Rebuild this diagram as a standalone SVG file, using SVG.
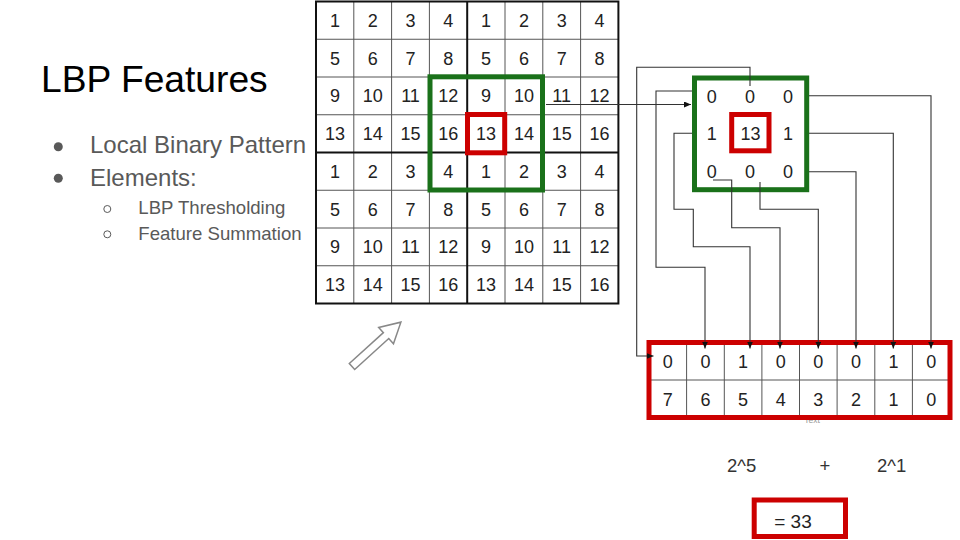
<svg xmlns="http://www.w3.org/2000/svg" width="960" height="540" viewBox="0 0 960 540">
<defs>
<style>
.t{font-family:"Liberation Sans",Arial,sans-serif;}
.g{font-family:"Liberation Sans",Arial,sans-serif;font-size:18px;fill:#222;text-anchor:middle;}
.thin{stroke:#555;stroke-width:1;fill:none;}
.thick{stroke:#111;stroke-width:2;fill:none;}
.grn{stroke:#1a711a;stroke-width:5;fill:none;}
.red{stroke:#cc0000;stroke-width:5;fill:none;}
.con{stroke:#333;stroke-width:1.1;fill:none;marker-end:url(#ah);}
.bl{font-family:"Liberation Sans",Arial,sans-serif;fill:#595959;}
</style>
<marker id="ah" markerUnits="userSpaceOnUse" markerWidth="7" markerHeight="6" refX="7" refY="3" orient="auto">
<path d="M0,0 L7,3 L0,6 z" fill="#111"/>
</marker>
</defs>
<rect width="960" height="540" fill="#fff"/>

<g id="title-text">
<text class="t" x="41" y="91.7" font-size="37.2" fill="#000">LBP Features</text>
<circle cx="58.3" cy="146.7" r="4.5" fill="#595959"/>
<text class="bl" x="90" y="153" font-size="24">Local Binary Pattern</text>
<circle cx="58.3" cy="178.3" r="4.5" fill="#595959"/>
<text class="bl" x="90" y="186" font-size="24">Elements:</text>
<circle cx="107.3" cy="209" r="3.5" fill="none" stroke="#595959" stroke-width="1"/>
<text class="bl" x="138.3" y="214" font-size="18.6">LBP Thresholding</text>
<circle cx="107.3" cy="234.3" r="3.5" fill="none" stroke="#595959" stroke-width="1"/>
<text class="bl" x="138.3" y="239.5" font-size="18.6">Feature Summation</text>
</g>

<g id="image-grid">
<rect x="316" y="1.5" width="302.4" height="302" fill="#fff"/>
<path class="thin" d="M353.8,1.5V303.5M391.6,1.5V303.5M429.4,1.5V303.5M505,1.5V303.5M542.8,1.5V303.5M580.6,1.5V303.5M316,39.25H618.4M316,77H618.4M316,114.75H618.4M316,190.25H618.4M316,228H618.4M316,265.75H618.4"/>
<path class="thick" d="M467.2,1.5V303.5M316,152.5H618.4"/>
<rect class="thick" x="316" y="1.5" width="302.4" height="302"/>
<text class="g" x="334.9" y="26.9">1</text><text class="g" x="372.7" y="26.9">2</text><text class="g" x="410.5" y="26.9">3</text><text class="g" x="448.3" y="26.9">4</text><text class="g" x="486.1" y="26.9">1</text><text class="g" x="523.9" y="26.9">2</text><text class="g" x="561.7" y="26.9">3</text><text class="g" x="599.5" y="26.9">4</text>
<text class="g" x="334.9" y="64.65">5</text><text class="g" x="372.7" y="64.65">6</text><text class="g" x="410.5" y="64.65">7</text><text class="g" x="448.3" y="64.65">8</text><text class="g" x="486.1" y="64.65">5</text><text class="g" x="523.9" y="64.65">6</text><text class="g" x="561.7" y="64.65">7</text><text class="g" x="599.5" y="64.65">8</text>
<text class="g" x="334.9" y="102.4">9</text><text class="g" x="372.7" y="102.4">10</text><text class="g" x="410.5" y="102.4">11</text><text class="g" x="448.3" y="102.4">12</text><text class="g" x="486.1" y="102.4">9</text><text class="g" x="523.9" y="102.4">10</text><text class="g" x="561.7" y="102.4">11</text><text class="g" x="599.5" y="102.4">12</text>
<text class="g" x="334.9" y="140.15">13</text><text class="g" x="372.7" y="140.15">14</text><text class="g" x="410.5" y="140.15">15</text><text class="g" x="448.3" y="140.15">16</text><text class="g" x="486.1" y="140.15">13</text><text class="g" x="523.9" y="140.15">14</text><text class="g" x="561.7" y="140.15">15</text><text class="g" x="599.5" y="140.15">16</text>
<text class="g" x="334.9" y="177.9">1</text><text class="g" x="372.7" y="177.9">2</text><text class="g" x="410.5" y="177.9">3</text><text class="g" x="448.3" y="177.9">4</text><text class="g" x="486.1" y="177.9">1</text><text class="g" x="523.9" y="177.9">2</text><text class="g" x="561.7" y="177.9">3</text><text class="g" x="599.5" y="177.9">4</text>
<text class="g" x="334.9" y="215.65">5</text><text class="g" x="372.7" y="215.65">6</text><text class="g" x="410.5" y="215.65">7</text><text class="g" x="448.3" y="215.65">8</text><text class="g" x="486.1" y="215.65">5</text><text class="g" x="523.9" y="215.65">6</text><text class="g" x="561.7" y="215.65">7</text><text class="g" x="599.5" y="215.65">8</text>
<text class="g" x="334.9" y="253.4">9</text><text class="g" x="372.7" y="253.4">10</text><text class="g" x="410.5" y="253.4">11</text><text class="g" x="448.3" y="253.4">12</text><text class="g" x="486.1" y="253.4">9</text><text class="g" x="523.9" y="253.4">10</text><text class="g" x="561.7" y="253.4">11</text><text class="g" x="599.5" y="253.4">12</text>
<text class="g" x="334.9" y="291.15">13</text><text class="g" x="372.7" y="291.15">14</text><text class="g" x="410.5" y="291.15">15</text><text class="g" x="448.3" y="291.15">16</text><text class="g" x="486.1" y="291.15">13</text><text class="g" x="523.9" y="291.15">14</text><text class="g" x="561.7" y="291.15">15</text><text class="g" x="599.5" y="291.15">16</text>
<rect class="grn" x="430" y="76.8" width="112.5" height="113.2"/>
<rect class="red" x="467.5" y="114.5" width="37.2" height="38.3" stroke-width="4.5"/>
</g>

<g id="hollow-arrow">
<polygon transform="translate(352,366.5) rotate(-42.2)" points="0,-4 46,-4 46,-11 66,0 46,11 46,4 0,4" fill="#fff" stroke="#888" stroke-width="1.5" stroke-linejoin="miter"/>
</g>

<g id="neighbourhood">
<rect class="grn" x="694.5" y="78" width="112.2" height="111.7" stroke-width="5.5"/>
<rect class="red" x="731.7" y="114.5" width="37.3" height="36.3" stroke-width="5.5"/>
<text class="g" x="711.7" y="103.2">0</text><text class="g" x="750" y="103.2">0</text><text class="g" x="788" y="103.2">0</text>
<text class="g" x="711.7" y="139.5">1</text><text class="g" x="750.5" y="139.5">13</text><text class="g" x="788" y="139.5">1</text>
<text class="g" x="711.7" y="178">0</text><text class="g" x="750" y="178">0</text><text class="g" x="788" y="178">0</text>
</g>

<g id="bits-row">
<text class="t" x="812" y="423" font-size="8.5" fill="#999" text-anchor="middle">Text</text>
<rect x="649" y="342.5" width="301" height="75" fill="#fff"/>
<path class="thin" d="M686.6,342.5V417.5M724.3,342.5V417.5M761.9,342.5V417.5M799.5,342.5V417.5M837.1,342.5V417.5M874.8,342.5V417.5M912.4,342.5V417.5M649,380H950"/>
<rect class="red" x="649" y="342.5" width="301" height="75" stroke-width="5.5"/>
<text class="g" x="667.8" y="368">0</text><text class="g" x="705.4" y="368">0</text><text class="g" x="743.1" y="368">1</text><text class="g" x="780.7" y="368">0</text><text class="g" x="818.3" y="368">0</text><text class="g" x="856" y="368">0</text><text class="g" x="893.6" y="368">1</text><text class="g" x="931.2" y="368">0</text>
<text class="g" x="667.8" y="405.8">7</text><text class="g" x="705.4" y="405.8">6</text><text class="g" x="743.1" y="405.8">5</text><text class="g" x="780.7" y="405.8">4</text><text class="g" x="818.3" y="405.8">3</text><text class="g" x="856" y="405.8">2</text><text class="g" x="893.6" y="405.8">1</text><text class="g" x="931.2" y="405.8">0</text>
</g>

<g id="sum-terms">
<text class="t" x="741.7" y="471.7" font-size="18.5" fill="#333" text-anchor="middle">2^5</text>
<text class="t" x="825" y="471.7" font-size="18.5" fill="#333" text-anchor="middle">+</text>
<text class="t" x="891.7" y="471.7" font-size="18.5" fill="#333" text-anchor="middle">2^1</text>
</g>

<g id="result">
<rect class="red" x="754.2" y="500" width="91.3" height="36.5" stroke-width="5"/>
<text class="t" x="793" y="527.7" font-size="19" fill="#222" text-anchor="middle">= 33</text>
</g>

<g id="connectors">
<path class="con" d="M546,104.5H691"/>
<path class="con" d="M750,86V67.3H636.7V356H653.5"/>
<path class="con" d="M692,91H656V267.3H705V348.5"/>
<path class="con" d="M692,133.3H674V209.3H693.3V246.7H750V348.5"/>
<path class="con" d="M713,180H731.7V227.7H780V348.5"/>
<path class="con" d="M760,182V209.3H818.3V348.5"/>
<path class="con" d="M809,171.7H856V348.5"/>
<path class="con" d="M809,133.3H893.3V348.5"/>
<path class="con" d="M809,95.7H931V348.5"/>
</g>
</svg>
